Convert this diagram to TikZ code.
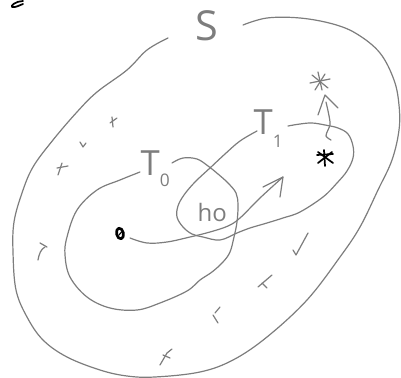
\documentclass[tikz,border=0pt]{standalone}
\usepackage{fontspec}
\setmainfont{Open Sans}
\definecolor{pencil}{RGB}{125,125,125}
\tikzset{every picture/.style={line width=0.9pt}}
\tikzset{
stroke/.style={color=pencil, draw opacity=1, line cap=round, line join=round},
ink/.style={color=black, draw opacity=1, line width=1.3pt, line cap=round, line join=round},
sketchlabel/.style={inner sep=0.75pt, color=pencil, opacity=1}}

\begin{document}
\begin{tikzpicture}[x=0.75pt,y=0.75pt,yscale=-1,xscale=1]
\useasboundingbox (0,0) rectangle (401,378);

%Curve Lines [id:outer region S] 
\draw [stroke] plot [smooth, tension=0.6] coordinates {(168,38) (147,50) (127,70) (97,92) (77,112) (53,140) (33,167) (22,193) (14,222) (13,252) (16,290) (27,317) (43,340) (67,357) (100,370) (127,376) (155,377) (200,372) (233,360) (267,337) (307,300) (340,257) (360,227) (378,190) (392,160) (399,130) (399,105) (394,80) (380,53) (357,34) (333,24) (300,18) (267,18) (243,25)};
%Curve Lines [id:region T0] 
\draw [stroke] plot [smooth, tension=0.6] coordinates {(140,172) (120,180) (97,190) (77,210) (67,237) (65,255) (70,277) (87,297) (110,308) (137,310) (160,303) (187,291) (200,280) (212,272) (223,262) (230,252) (234,237) (237,222) (238,205) (236,193) (228,183) (218,174) (208,166) (197,159) (183,158) (172,163)};
%Curve Lines [id:region T1] 
\draw [stroke] plot [smooth, tension=0.6] coordinates {(288,126) (300,124) (312,123) (325,125) (338,128) (348,134) (353,146) (353,158) (347,171) (337,183) (323,197) (300,212) (283,218) (267,223) (250,228) (237,233) (220,240) (203,237) (192,234) (183,227) (177,217) (178,206) (184,195) (195,182) (210,168) (225,154) (240,141) (257,131)};

%Curve Lines [id:path from start point] 
\draw [stroke] plot [smooth, tension=0.6] coordinates {(130,238) (147,243) (167,242) (190,237) (210,232) (228,226) (240,218) (260,198) (283,177)};
\draw [stroke] (263,187) -- (283,177) -- (280,197) ;

%Straight Lines [id:arrow to gray star] 
\draw [stroke] plot [smooth, tension=0.6] coordinates {(326,102) (330,122) (328,130) (326,136) (331,140)};
\draw [stroke] (318,115) -- (325,95) -- (338,108) ;

%Shape: gray star 
\draw [stroke] (318,72) -- (322,90) ;
\draw [stroke] (310,83) -- (330,79) ;
\draw [stroke] (312,75) -- (328,88) ;
\draw [stroke] (315,90) -- (325,74) ;

%Shape: black star 
\draw [ink] (317,155) -- (333,154) ;
\draw [ink] (324,150) -- (325,166) ;
\draw [ink] (318,163) -- (332,152) ;
\draw [ink] (318,152) -- (333,163) ;

%Shape: start point 
\draw [ink, line width=2pt] (120,233.5) ellipse [x radius=3.4, y radius=5.4, rotate=-12] ;
\draw [ink, line width=0.9pt] (119,235) -- (121.5,232) ;

%Curve Lines [id:corner stroke] 
\draw [ink] (23,1) .. controls (16,1) and (10,6) .. (12,7) .. controls (15,8) and (20,5) .. (23,4) ;

%Straight Lines [id:sample marks] 
\draw [stroke] (112,117) -- (113,127) ;
\draw [stroke] (110,123) -- (117,118) ;
\draw [stroke] (80,142) -- (83,147) -- (86,143) ;
\draw [stroke] (62,163) -- (58,175) ;
\draw [stroke] (57,168) -- (68,166) ;
\draw [stroke] (38,260) .. controls (39,254) and (41,249) .. (45,247) ;
\draw [stroke] (40,243) -- (47,247) ;
\draw [stroke] (160,365) -- (167,353) -- (172,349) ;
\draw [stroke] (163,355) -- (170,358) ;
\draw [stroke] (293,250) -- (296,255) -- (308,233) ;
\draw [stroke] (258,287) -- (272,275) ;
\draw [stroke] (262,283) -- (267,288) ;
\draw [stroke] (213,315) -- (218,323) ;
\draw [stroke] (215,313) -- (220,307) ;

% Text Node
\draw (206.5,25.5) node [anchor=center][sketchlabel] [font=\fontsize{31}{31}\selectfont] (lblS) {S};
% Text Node
\draw (139,176) node [anchor=base west][sketchlabel] [font=\fontsize{26}{26}\selectfont] (lblTzero) {T\raisebox{-8pt}{\fontsize{13}{13}\selectfont 0}};
% Text Node
\draw (252,135) node [anchor=base west][sketchlabel] [font=\fontsize{26}{26}\selectfont] (lblTone) {T\raisebox{-9.5pt}{\fontsize{13}{13}\selectfont 1}};
% Text Node
\draw (196,222) node [anchor=base west][sketchlabel] [font=\fontsize{18}{18}\selectfont] (lblho) {ho};

\end{tikzpicture}
\end{document}
